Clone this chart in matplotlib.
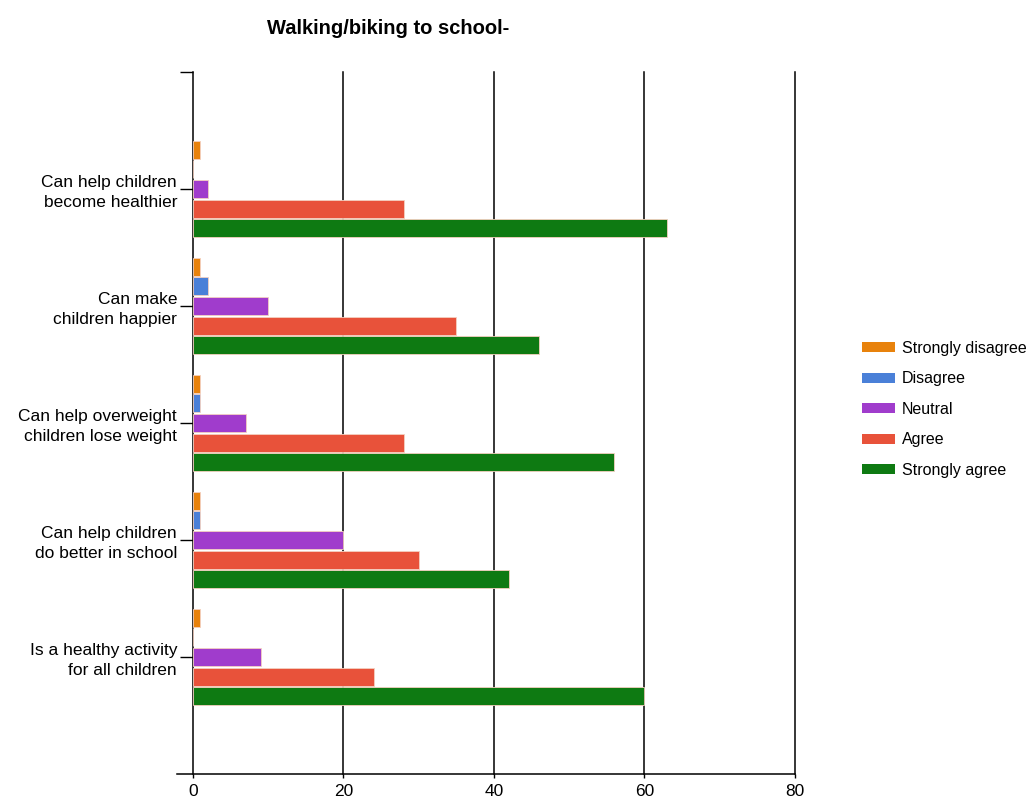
import matplotlib.pyplot as plt
import numpy as np
from matplotlib.patches import Patch

plt.rcParams['font.family'] = ['Liberation Sans', 'DejaVu Sans']

categories = ['Can help children\nbecome healthier',
              'Can make\nchildren happier',
              'Can help overweight\nchildren lose weight',
              'Can help children\ndo better in school',
              'Is a healthy activity\nfor all children']
series = ['Strongly disagree', 'Disagree', 'Neutral', 'Agree', 'Strongly agree']
strongly_disagree = [1, 1, 1, 1, 1]
disagree = [0, 2, 1, 1, 0]
neutral = [2, 10, 7, 20, 9]
agree = [28, 35, 28, 30, 24]
strongly_agree = [63, 46, 56, 42, 60]
xticks = [0, 20, 40, 60, 80]

colors = ['#e8820c', '#4a80d8', '#a03ccc', '#e8523a', '#0e7a12']
values = [strongly_disagree, disagree, neutral, agree, strongly_agree]

fig = plt.figure(figsize=(10.27, 8.06), dpi=100)
ax = fig.add_axes([0.1879, 0.0397, 0.7741 - 0.1879, 0.9107 - 0.0397])

pos = np.arange(1, len(categories) + 1)
slot = 0.167
for i, (vals, col) in enumerate(zip(values, colors)):
    offs = (i - 2) * slot
    ax.barh(pos + offs, vals, height=slot * 0.92, color=col,
            edgecolor='#f4d0c0', linewidth=0.6, zorder=3)

ax.set_ylim(len(categories) + 1, 0)
ax.set_xlim(0, 80)

for x in xticks[1:]:
    ax.axvline(x, color='black', lw=1.1, zorder=1, clip_on=False)

for s in ['top', 'right']:
    ax.spines[s].set_visible(False)
ax.spines['left'].set_linewidth(1.1)
ax.spines['bottom'].set_linewidth(1.1)
ax.spines['bottom'].set_bounds(-2.1, 80)

ax.set_xticks(xticks)
ax.set_xticklabels([str(v) for v in xticks], fontsize=12.5)
ax.tick_params(axis='x', length=3, width=1, pad=4)

ax.set_yticks(list(range(0, len(categories) + 1)))
ax.set_yticklabels([''] + categories, fontsize=12.5, linespacing=1.35)
ax.tick_params(axis='y', length=9.5, width=1, pad=2)

fig.text(0.378, 0.965, 'Walking/biking to school-', fontsize=14.5, fontweight='bold',
         ha='center', va='center')

handles = [Patch(facecolor=c, edgecolor='none') for c in colors]
fig.legend(handles, series, loc='upper left', bbox_to_anchor=(0.839, 0.577),
           frameon=False, fontsize=11.5, handlelength=2.1, handleheight=0.62,
           labelspacing=0.97, handletextpad=0.4, borderaxespad=0, borderpad=0)

fig.savefig('out.png', dpi=100, facecolor='white')
